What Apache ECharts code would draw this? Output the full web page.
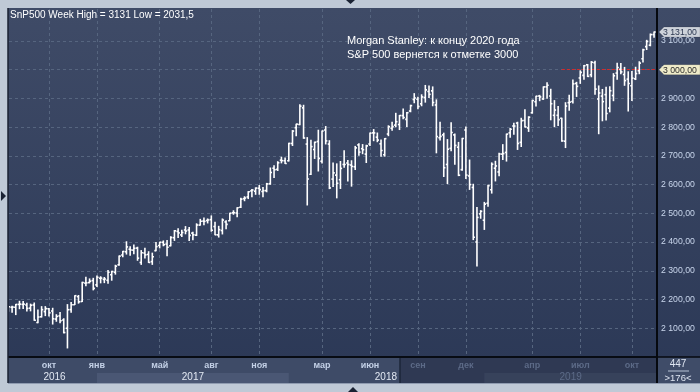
<!DOCTYPE html>
<html><head><meta charset="utf-8">
<script src="https://cdn.jsdelivr.net/npm/echarts@6/dist/echarts.min.js"></script>
<style>html,body{margin:0;padding:0;background:#bfc9d6;}#c{width:700px;height:392px;}</style>
</head><body><div id="c"></div>
<script>
const weeks = [
'2016-07-18','2016-07-25','2016-08-01','2016-08-08','2016-08-15','2016-08-22','2016-08-29','2016-09-05','2016-09-12','2016-09-19','2016-09-26','2016-10-03','2016-10-10','2016-10-17','2016-10-24','2016-10-31','2016-11-07','2016-11-14','2016-11-21','2016-11-28','2016-12-05','2016-12-12','2016-12-19','2016-12-26',
'2017-01-02','2017-01-09','2017-01-16','2017-01-23','2017-01-30','2017-02-06','2017-02-13','2017-02-20','2017-02-27','2017-03-06','2017-03-13','2017-03-20','2017-03-27','2017-04-03','2017-04-10','2017-04-17','2017-04-24','2017-05-01','2017-05-08','2017-05-15','2017-05-22','2017-05-29','2017-06-05','2017-06-12','2017-06-19','2017-06-26','2017-07-03','2017-07-10','2017-07-17','2017-07-24','2017-07-31','2017-08-07','2017-08-14','2017-08-21','2017-08-28','2017-09-04','2017-09-11','2017-09-18','2017-09-25','2017-10-02','2017-10-09','2017-10-16','2017-10-23','2017-10-30','2017-11-06','2017-11-13','2017-11-20','2017-11-27','2017-12-04','2017-12-11','2017-12-18','2017-12-25',
'2018-01-01','2018-01-08','2018-01-15','2018-01-22','2018-01-29','2018-02-05','2018-02-12','2018-02-19','2018-02-26','2018-03-05','2018-03-12','2018-03-19','2018-03-26','2018-04-02','2018-04-09','2018-04-16','2018-04-23','2018-04-30','2018-05-07','2018-05-14','2018-05-21','2018-05-28','2018-06-04','2018-06-11','2018-06-18','2018-06-25','2018-07-02','2018-07-09','2018-07-16','2018-07-23','2018-07-30','2018-08-06','2018-08-13','2018-08-20','2018-08-27','2018-09-03','2018-09-10','2018-09-17','2018-09-24','2018-10-01','2018-10-08','2018-10-15','2018-10-22','2018-10-29','2018-11-05','2018-11-12','2018-11-19','2018-11-26','2018-12-03','2018-12-10','2018-12-17','2018-12-24','2018-12-31',
'2019-01-02','2019-01-07','2019-01-14','2019-01-21','2019-01-28','2019-02-04','2019-02-11','2019-02-18','2019-02-25','2019-03-04','2019-03-11','2019-03-18','2019-03-25','2019-04-01','2019-04-08','2019-04-15','2019-04-22','2019-04-29','2019-05-06','2019-05-13','2019-05-20','2019-05-27','2019-06-03','2019-06-10','2019-06-17','2019-06-24','2019-07-01','2019-07-08','2019-07-15','2019-07-22','2019-07-29','2019-08-05','2019-08-12','2019-08-19','2019-08-26','2019-09-02','2019-09-09','2019-09-16','2019-09-23','2019-09-30','2019-10-07','2019-10-14','2019-10-21','2019-10-28','2019-11-04','2019-11-11','2019-11-18'
];
const opens = [
2162,2173,2173,2183,2183,2181,2170,2181,2120,2140,2158,2168,2160,2132,2143,2129,2100,2165,2182,2210,2193,2257,2259,2266,
2251,2274,2270,2267,2286,2295,2321,2355,2366,2375,2372,2379,2329,2362,2357,2332,2370,2388,2399,2393,2387,2415,2437,2425,2442,2442,2431,2424,2459,2473,2475,2478,2454,2425,2440,2470,2474,2502,2501,2521,2551,2557,2578,2577,2587,2576,2579,2603,2657,2653,2685,2683,
2683,2743,2798,2809,2867,2741,2636,2722,2750,2681,2790,2741,2619,2633,2617,2670,2675,2668,2662,2738,2725,2706,2741,2780,2765,2742,2704,2776,2796,2807,2809,2840,2827,2856,2896,2897,2881,2903,2924,2926,2877,2763,2773,2670,2726,2773,2730,2652,2790,2630,2590,2400,2498,
2476,2535,2582,2657,2644,2706,2712,2780,2804,2814,2747,2823,2797,2850,2888,2908,2898,2940,2908,2841,2841,2831,2751,2885,2889,2952,2971,2980,3017,2982,3024,2898,2908,2913,2866,2910,2988,3001,2983,2967,2944,2968,2996,3038,3080,3085,3122
];
const highs = [
2175.6,2177,2182.9,2193.8,2193.4,2187,2184,2187.9,2163.3,2175.3,2175.3,2169,2169.6,2147.2,2154.8,2133,2182.3,2189.9,2213.4,2214.1,2259.8,2277.5,2271.7,2273.8,
2282.1,2279.3,2276.7,2301,2298.3,2319.2,2351.3,2367.5,2401,2383.9,2390,2382,2370.3,2378.4,2366.4,2361.4,2398.2,2399.3,2403.9,2405.8,2418.7,2440.2,2446.2,2440.8,2453.8,2450.4,2434.3,2463.5,2479,2484,2480.4,2490.9,2468.6,2454.8,2480.4,2474.5,2500.2,2508.9,2519.4,2552.5,2557.7,2575.4,2583,2588.4,2597,2590.1,2604.2,2657.7,2665.2,2679.6,2695,2692.1,
2743.5,2787.9,2810.3,2878,2876,2763.4,2754.4,2747.8,2789.2,2786.6,2801.9,2752.7,2674.8,2672.1,2680.3,2717.5,2683.6,2682.9,2732.9,2742.1,2739.2,2736.9,2779.9,2791.5,2779.4,2754.9,2760.2,2804.5,2816.8,2848,2840.4,2863.4,2850.5,2876.2,2916.5,2903.8,2912.4,2945,2943,2939.9,2894.8,2816.9,2778.9,2756.6,2815.2,2776,2746.8,2760.9,2800.2,2685.4,2601.1,2520.3,2509.2,
2538.1,2597.8,2675.5,2681.1,2709,2739,2775.7,2795.1,2813.5,2816.9,2830.7,2860.3,2836,2893.4,2907.4,2910.5,2939.9,2954.1,2931.7,2892.2,2871.6,2830.9,2884.9,2910.6,2964.2,2955.9,2995.8,3014.3,3017.8,3028,3029.3,2943.3,2931,2939.1,2940.4,2985.9,3022,3021.4,3007.8,2992.5,2993.3,3008.3,3027.4,3071,3102,3124,3131
];
const lows = [
2159,2155.8,2147.6,2168,2168.5,2160.4,2160.6,2127.8,2119.1,2139.2,2144,2142.6,2114.7,2124.4,2119.4,2083.8,2031.5,2156.1,2182.3,2187.4,2192.9,2248,2258.1,2233.6,
2245.1,2258,2258.8,2257,2267.2,2288.4,2319.2,2348.8,2358.2,2354.3,2359,2336.6,2322.3,2344.7,2329,2322.3,2370,2379.8,2387,2352.7,2386.7,2405.7,2415.7,2419,2428.8,2405.7,2407.7,2422.6,2458.9,2459.9,2466.5,2437.8,2425.5,2417.4,2428.2,2446.5,2474.5,2496.7,2488,2520.4,2543.8,2551.3,2557.6,2566.2,2566.3,2557.4,2575,2601,2624.8,2649,2675.6,2673.6,
2682.4,2736,2769.6,2808.1,2761.1,2529,2634.9,2691,2647.3,2675,2741.4,2585.9,2593.1,2553.8,2586.5,2660,2612.2,2594.6,2652.5,2701.9,2707.5,2676.8,2735.8,2752.7,2749.2,2698.7,2698.9,2770.2,2789.2,2801.3,2791.5,2828.8,2802.5,2853.4,2884.8,2864.1,2874.3,2886.9,2903.3,2874.3,2710.5,2755.2,2628.2,2603.5,2717.6,2670.8,2631.1,2649.9,2621.5,2583.2,2408.6,2316.75,2482.8,
2443.96,2524.6,2570.4,2612.7,2631.1,2687.3,2681.8,2764.9,2775.1,2722.3,2732.5,2800.7,2785,2848.6,2873.8,2891.9,2896.4,2900.5,2825.4,2801.4,2805.5,2750.5,2728.8,2858.6,2883.6,2906.8,2952.2,2966.4,2975.9,2975.2,2914.1,2777,2822,2825,2853.1,2891.9,2966.9,2985.8,2945.5,2856,2892.7,2965.5,2985.8,3027,3070,3083,3113
];
const closes = [
2175,2173.6,2182.9,2184,2183.9,2169,2180,2127.8,2139.2,2164.7,2168.3,2153.7,2133,2141.2,2126.4,2085.2,2164.5,2181.9,2213.4,2192,2259.5,2258,2263.8,2238.8,
2277,2274.6,2271.3,2294.7,2297.4,2316.1,2351.2,2367.3,2383.1,2372.6,2378.3,2344,2362.7,2355.5,2329,2348.7,2384.2,2399.3,2390.9,2381.7,2415.8,2439.1,2431.8,2433.2,2438.3,2423.4,2425.2,2459.3,2472.5,2472.1,2476.8,2441.3,2425.6,2443.1,2476.6,2461.4,2500.2,2502.2,2519.4,2549.3,2553.2,2575.2,2581.1,2587.8,2582.3,2578.9,2602.4,2642.2,2651.5,2675.8,2683.3,2673.6,
2743.2,2786.2,2810.3,2872.9,2762.1,2619.6,2732.2,2747.3,2691.3,2786.6,2752,2588.3,2640.9,2604.5,2656.3,2670.1,2669.9,2663.4,2727.7,2713,2721.3,2734.6,2779,2779.7,2754.9,2718.4,2759.8,2801.3,2801.8,2818.8,2840.4,2833.3,2850.1,2874.7,2901.5,2871.7,2905,2929.7,2914,2885.6,2767.1,2767.8,2658.7,2723.1,2781,2736.3,2632.6,2760.2,2633.1,2600,2416.6,2485.7,2506.9,
2531.9,2596.3,2670.7,2664.8,2706.5,2707.9,2775.6,2792.7,2803.7,2743.1,2822.5,2800.7,2834.4,2892.7,2907.4,2905,2939.9,2945.6,2881.4,2859.5,2826.1,2752.1,2873.3,2887,2950.5,2941.8,2990.4,3013.8,2976.6,3025.9,2932.1,2918.7,2888.7,2847.1,2926.5,2978.7,3007.4,2992.1,2961.8,2952,2970.3,2986.2,3022.6,3069,3098,3122,3131
];
const yTicks = [2100,2200,2300,2400,2500,2600,2700,2800,2900,3000,3100];
const monthTickWeeks = ['2016-10-03','2017-01-02','2017-05-01','2017-08-07','2017-11-06','2018-03-05','2018-06-04','2018-09-03','2018-12-03','2019-04-01','2019-07-01','2019-10-07'];
const monthNames = ['окт','янв','май','авг','ноя','мар','июн','сен','дек','апр','июл','окт'];
const yearNames = ['2016','2017','2018','2019'];
const yearStartWeeks = ['2016-07-25','2017-01-02','2018-01-01','2019-01-02'];
const alertLevel = 3000;
const alertFromWeek = '2019-05-27';
const noteLines = ['Morgan Stanley: к концу 2020 года','S&P 500 вернется к отметке 3000'];
const infoTop = '447';
const infoBottom = '>176<';

const FONT = 'Liberation Sans, Arial, sans-serif';
function fmtPrice(v){
  const s = v.toFixed(2).split('.');
  return s[0].replace(/\B(?=(\d{3})+(?!\d))/g,' ') + ',' + s[1];
}
const hiAll = Math.max.apply(null, highs);
const loAll = Math.min.apply(null, lows);
const titleText = 'SnP500 Week High = ' + String(hiAll).replace('.',',') + ' Low = ' + String(loAll).replace('.',',');

const monthIdx = monthTickWeeks.map(w => weeks.indexOf(w));
const monthMap = {};
monthIdx.forEach((k,n) => { monthMap[k] = monthNames[n]; });
const OVERLAY_X = 400;
const data = weeks.map((w,i) => [i, opens[i], highs[i], lows[i], closes[i]]);

const chart = echarts.init(document.getElementById('c'), null, {renderer:'canvas'});
const gridL = 9, gridR = 657, gridT = 9, gridB = 357;
chart.setOption({
  animation: false,
  backgroundColor: 'transparent',
  grid: {left: gridL, right: 700-gridR, top: gridT, bottom: 392-gridB, containLabel: false},
  xAxis: {
    type: 'value', min: 0.16, max: 175.8, position: 'bottom',
    axisLine: {show: true, onZero: false, lineStyle: {color: '#06090f', width: 1.5}},
    axisTick: {show: false, customValues: monthIdx},
    axisLabel: {
      customValues: monthIdx, margin: 4, fontSize: 9, fontWeight: 'bold', fontFamily: FONT, color: '#c3d0e6',
      formatter: function(v){
        const name = monthMap[Math.round(v)] || '';
        const px = gridL + (v - 0.16) / (175.8 - 0.16) * (gridR - gridL);
        return px > OVERLAY_X ? '{d|' + name + '}' : name;
      },
      rich: {d: {color: '#5c6a87', fontSize: 9, fontWeight: 'bold', fontFamily: FONT}}
    },
    splitLine: {show: true, lineStyle: {color: '#56657f', type: [3,3], width: 1}}
  },
  yAxis: {
    type: 'value', position: 'right', min: 2000, max: 3211, interval: 100,
    axisLine: {show: true, lineStyle: {color: '#06090f', width: 2}},
    axisTick: {show: false, customValues: yTicks},
    axisLabel: {customValues: yTicks, margin: 4, fontSize: 8.7, fontFamily: FONT, color: '#c9d6ec', align: 'left',
      formatter: function(v){ return (v < 2050 || v > 3150) ? '' : fmtPrice(v); }},
    splitLine: {show: true, lineStyle: {color: '#56657f', type: [3,3], width: 1}}
  },
  series: [{
    type: 'custom', clip: true, z: 5,
    encode: {x: 0, y: [2,3]},
    data: data,
    renderItem: function(params, api){
      const i = api.value(0);
      const pO = api.coord([i, api.value(1)]);
      const pH = api.coord([i, api.value(2)]);
      const pL = api.coord([i, api.value(3)]);
      const pC = api.coord([i, api.value(4)]);
      const w = api.size([1,0])[0];
      const t = Math.max(1.5, w*0.45);
      const st = {stroke: '#ffffff', lineWidth: 1.6};
      return {type: 'group', children: [
        {type: 'line', shape: {x1: pH[0], y1: pH[1]-0.5, x2: pL[0], y2: pL[1]+0.5}, style: st},
        {type: 'line', shape: {x1: pO[0]-t, y1: pO[1], x2: pO[0], y2: pO[1]}, style: st},
        {type: 'line', shape: {x1: pC[0], y1: pC[1], x2: pC[0]+t, y2: pC[1]}, style: st}
      ]};
    },
    markLine: {
      silent: true, symbol: 'none', label: {show: false},
      lineStyle: {color: '#d42a2a', type: [3,2], width: 1},
      data: [[{coord: [weeks.indexOf(alertFromWeek), alertLevel]}, {coord: [175.8, alertLevel]}]]
    }
  }]
});

function px(i, v){ return chart.convertToPixel({gridIndex: 0}, [i, v]); }
const g = [];
g.push({type:'rect', z:-100, shape:{x:0,y:0,width:700,height:392}, style:{fill:'#bfc9d6'}});
g.push({type:'rect', z:-99, shape:{x:8,y:8,width:692,height:375}, style:{fill:new echarts.graphic.LinearGradient(0,0,0,1,[{offset:0,color:'#3f4b67'},{offset:1,color:'#2b3856'}])}});
g.push({type:'rect', z:-98, shape:{x:8,y:gridB,width:gridR-8,height:383-gridB}, style:{fill:'#3e4b67'}});
const yearX = yearStartWeeks.map(w => px(weeks.indexOf(w), 2500)[0]);
for (let k = 0; k < yearNames.length; k++) {
  const x0 = yearX[k], x1 = k+1 < yearX.length ? yearX[k+1] : gridR;
  if (k % 2 === 1) g.push({type:'rect', z:-97, shape:{x:x0,y:373,width:x1-x0,height:10}, style:{fill:'#4a5774'}});
  let tx = (x0+x1)/2, al = 'center';
  if (x0 < OVERLAY_X && x1 > OVERLAY_X) { tx = OVERLAY_X - 3; al = 'right'; }
  const dim = x0 >= OVERLAY_X;
  g.push({type:'text', z:50, x:tx, y:377, style:{text:yearNames[k], fill: dim ? '#5c6a87' : '#e2e8f2', font:'10px ' + FONT, align:al, verticalAlign:'middle'}});
}
g.push({type:'rect', z:-90, shape:{x:OVERLAY_X,y:gridB+1,width:gridR-OVERLAY_X,height:383-gridB-1}, style:{fill:'rgba(14,22,40,0.32)'}});
g.push({type:'line', z:-89, shape:{x1:OVERLAY_X,y1:gridB+1,x2:OVERLAY_X,y2:383}, style:{stroke:'#1d2638',lineWidth:1.5}});
g.push({type:'line', z:40, shape:{x1:8,y1:gridB,x2:700,y2:gridB}, style:{stroke:'#06090f',lineWidth:1.5}});
g.push({type:'line', z:40, shape:{x1:gridR,y1:8,x2:gridR,y2:383}, style:{stroke:'#06090f',lineWidth:2}});
g.push({type:'line', z:40, shape:{x1:8,y1:8,x2:8,y2:383}, style:{stroke:'#1a2132',lineWidth:1.5}});
g.push({type:'line', z:40, shape:{x1:8,y1:383.5,x2:700,y2:383.5}, style:{stroke:'#8f9bb0',lineWidth:1}});
g.push({type:'rect', z:-96, shape:{x:gridR,y:gridB,width:700-gridR,height:383-gridB}, style:{fill:'#3f4c68'}});
g.push({type:'text', z:50, x:678, y:364, style:{text:infoTop, fill:'#dfe6f2', font:'10px ' + FONT, align:'center', verticalAlign:'middle'}});
g.push({type:'line', z:50, shape:{x1:668,y1:371,x2:689,y2:371}, style:{stroke:'#b8c3d6',lineWidth:1}});
g.push({type:'text', z:50, x:678, y:378, style:{text:infoBottom, fill:'#dfe6f2', font:'9.5px ' + FONT, align:'center', verticalAlign:'middle'}});
g.push({type:'polygon', z:60, shape:{points:[[346,0],[355,0],[350.5,4]]}, style:{fill:'#1a2233'}});
g.push({type:'polygon', z:60, shape:{points:[[1,191],[1,201],[6,196]]}, style:{fill:'#1a2233'}});
g.push({type:'polygon', z:60, shape:{points:[[348,392],[358,392],[353,387]]}, style:{fill:'#1a2233'}});
g.push({type:'text', z:50, x:10, y:15, style:{text:titleText, fill:'#ffffff', font:'10px ' + FONT, verticalAlign:'middle'}});
g.push({type:'text', z:50, x:347, y:41, style:{text:noteLines[0], fill:'#ffffff', font:'11px ' + FONT, verticalAlign:'middle'}});
g.push({type:'text', z:50, x:347, y:54.5, style:{text:noteLines[1], fill:'#ffffff', font:'11px ' + FONT, verticalAlign:'middle'}});
function tag(v, fill, txt){
  const y = px(100, v)[1];
  g.push({type:'polygon', z:70, shape:{points:[[659,y],[664,y-5],[700,y-5],[700,y+5],[664,y+5]]}, style:{fill:fill, stroke:'rgba(0,0,0,0.25)', lineWidth:0.5}});
  g.push({type:'text', z:71, x:663, y:y+0.5, style:{text:fmtPrice(v), fill:txt, font:'8.7px ' + FONT, verticalAlign:'middle'}});
}
tag(closes[closes.length-1], '#cdd2da', '#2b3750');
tag(alertLevel, '#efebc9', '#2a2a2a');
chart.setOption({graphic: g});
</script></body></html>
